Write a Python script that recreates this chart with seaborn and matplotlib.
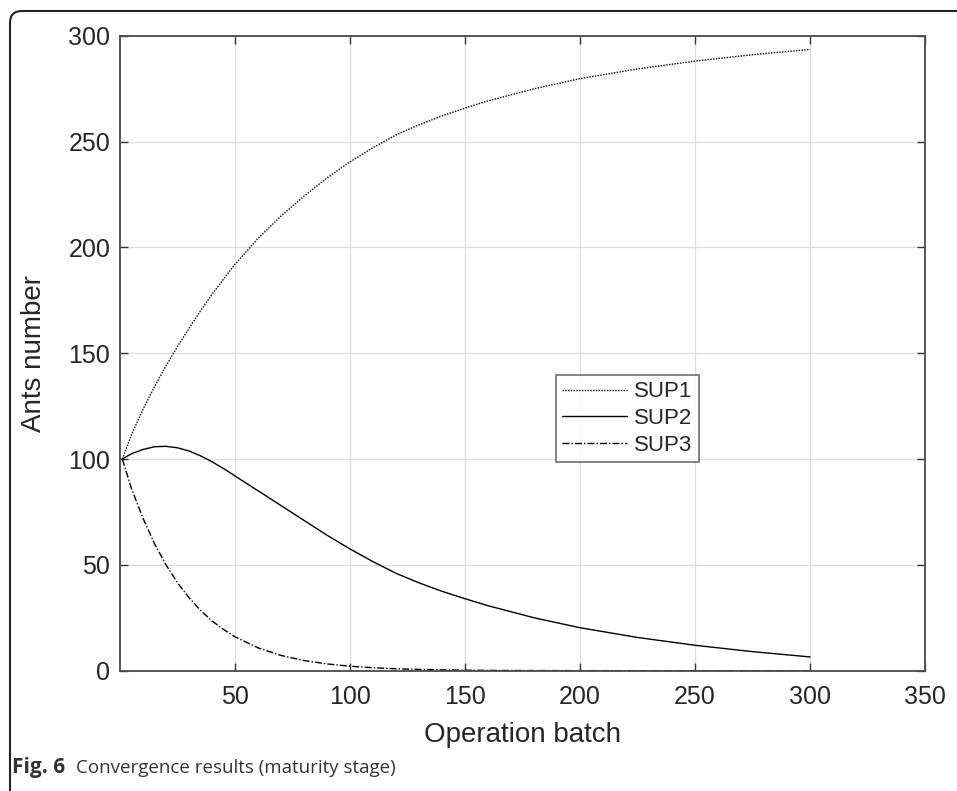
#!/usr/bin/env python3
"""
Convergence results (maturity stage): ants number per supplier vs operation batch.
"""

import numpy as np
import pandas as pd
import matplotlib
matplotlib.use("Agg")
import matplotlib.pyplot as plt
from matplotlib.patches import FancyBboxPatch
import seaborn as sns

# =============================================================================
# Data
# =============================================================================

batch = [1, 5, 10, 15, 20, 25, 30, 35, 40, 45, 50, 60, 70, 80, 90, 100,
         110, 120, 130, 140, 150, 160, 180, 200, 225, 250, 275, 300]

sup1 = [100, 111.5, 123.5, 134.2, 144, 153.2, 161.7, 170, 177.8, 185, 192,
        204.2, 214.8, 224.2, 232.8, 240.4, 247.1, 253.1, 257.9, 262.1, 265.8,
        269.2, 274.9, 279.7, 284.3, 288, 291, 293.5]
sup2 = [100, 102.5, 104.5, 105.8, 106, 105.3, 103.8, 101.5, 98.7, 95.5, 92,
        85, 78, 71, 64, 57.5, 51.5, 46, 41.5, 37.5, 34,
        30.7, 25, 20.3, 15.7, 12, 9, 6.5]
sup3 = [100, 86, 72, 60, 50, 41.5, 34.5, 28.5, 23.5, 19.5, 16,
        10.8, 7.2, 4.8, 3.2, 2.1, 1.4, 0.9, 0.6, 0.4, 0.25,
        0.15, 0.06, 0.02, 0, 0, 0, 0]

series_names = ["SUP1", "SUP2", "SUP3"]
x_ticks = [50, 100, 150, 200, 250, 300, 350]
y_ticks = [0, 50, 100, 150, 200, 250, 300]

df = pd.DataFrame({
    "batch": batch * 3,
    "ants": sup1 + sup2 + sup3,
    "series": np.repeat(series_names, len(batch)),
})

# =============================================================================
# Plot
# =============================================================================

sns.set_style("ticks")
plt.rcParams["font.family"] = ["Liberation Sans", "DejaVu Sans"]

fig = plt.figure(figsize=(9.57, 7.91), dpi=100)
ax = fig.add_axes([0.1254, 0.1521, 0.8412, 0.8028])

sns.lineplot(
    data=df, x="batch", y="ants",
    hue="series", style="series",
    palette={n: "black" for n in series_names},
    dashes={"SUP1": (1, 1), "SUP2": "", "SUP3": (5, 1.5, 1, 1.5)},
    linewidth=1.0, ax=ax,
)

ax.set_xlim(0, 350)
ax.set_ylim(0, 300)
ax.set_xticks(x_ticks)
ax.set_yticks(y_ticks)
ax.grid(True, color="#dedede", linewidth=0.9)
ax.set_axisbelow(True)

for s in ax.spines.values():
    s.set_visible(True)
    s.set_color("#4a4a4a")
    s.set_linewidth(1.3)

ax.tick_params(direction="in", length=5.5, width=1.0, color="#333333",
               labelsize=18, labelcolor="#262626", pad=7,
               top=True, right=True)
ax.tick_params(axis="x", pad=10)

ax.set_xlabel("Operation batch", fontsize=20, color="#262626", labelpad=10)
ax.set_ylabel("Ants number", fontsize=20, color="#262626", labelpad=15)

leg = ax.legend(
    loc="upper left", bbox_to_anchor=(0.541, 0.466),
    fontsize=16, frameon=True, fancybox=False,
    handlelength=2.9, handletextpad=0.35, borderpad=0.3,
    labelspacing=0.25, borderaxespad=0,
)
leg.get_frame().set_edgecolor("#4a4a4a")
leg.get_frame().set_linewidth(1.2)
for line in leg.get_lines():
    line.set_linewidth(1.0)

# journal frame and caption
frame = FancyBboxPatch(
    (10, -40), 1000, 791 - 11 + 40,
    boxstyle="round,pad=0,rounding_size=12",
    transform=None, fill=False, edgecolor="#222222", linewidth=1.5,
    clip_on=False,
)
fig.patches.append(frame)

cap_font = ["Open Sans", "DejaVu Sans"]
fig.text(12 / 957, 1 - 768 / 791, "Fig. 6", fontsize=15, fontweight="bold",
         color="#333333", va="center", ha="left", family=cap_font)
fig.text(76 / 957, 1 - 768 / 791, "Convergence results (maturity stage)", fontsize=13.5,
         color="#333333", va="center", ha="left", family=cap_font)

fig.savefig("out.png", dpi=100)
plt.close(fig)
